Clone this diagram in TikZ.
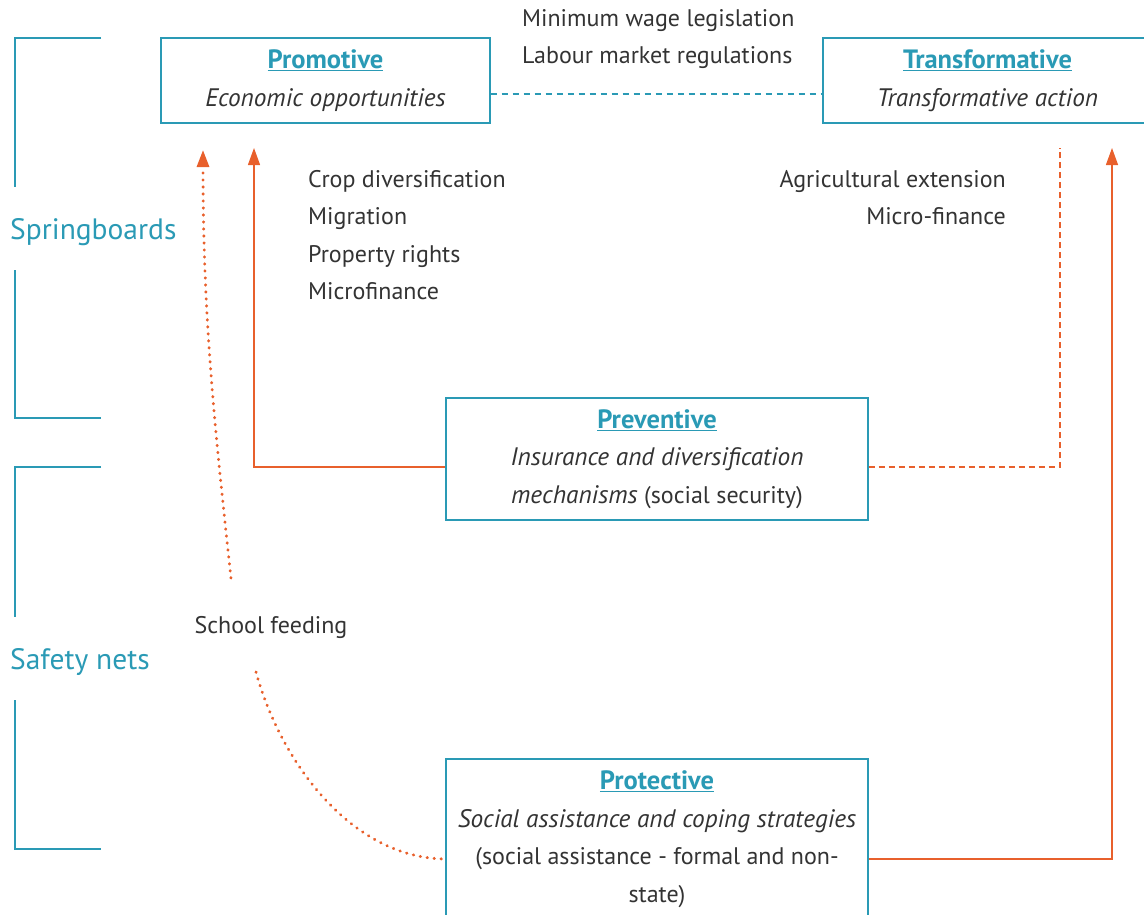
\documentclass[tikz,border=0pt]{standalone}
\usepackage{fontspec}
\setmainfont{PT Sans}
\usetikzlibrary{arrows.meta,positioning}

\definecolor{couleurcadre}{HTML}{2A9AB5}
\definecolor{couleurfleche}{HTML}{E8602C}
\definecolor{couleurtexte}{HTML}{333333}
\newcommand{\titre}[1]{{\fontsize{26.5}{37.5}\selectfont\textcolor{couleurcadre}{\textbf{\underline{#1}}}}}
\newcommand{\soustitre}[1]{{\fontsize{25.3}{37.5}\selectfont\textit{#1}}}
\newcommand{\lienangl}[3][]{\draw[#1] (#2) -| (#3);}
\tikzset{
		basic/.style={font=\fontsize{24}{37.5}\selectfont, text=couleurtexte, inner sep=0pt},
		boite/.style={basic, draw=couleurcadre, line width=1.3pt, align=center},
		liste/.style={basic},
		bloc/.style={basic, font=\fontsize{29.5}{30}\selectfont, text=couleurcadre, anchor=west},
		crochet/.style={draw=couleurcadre, line width=1.3pt},
		fleche/.style={draw=couleurfleche, line width=1.3pt, -{Triangle[length=17pt,width=12pt]}},
		pointille/.style={draw=couleurfleche, line width=3pt, line cap=round, dash pattern=on 0.4pt off 6.6pt},
		tirets/.style={draw=couleurfleche, line width=1.3pt, dash pattern=on 6pt off 4pt},
		tiretsbleus/.style={draw=couleurcadre, line width=1.1pt, dash pattern=on 6pt off 5pt}
	}

\begin{document}
\begin{tikzpicture}[x=1pt, y=-1pt]
		\useasboundingbox (0,0) rectangle (1144,914);
		% crochets
		\draw[crochet] (101,38) -| (15,187);
		\draw[crochet] (15,270) |- (101,418);
		\draw[crochet] (101,467) -| (15,617);
		\draw[crochet] (15,700) |- (101,849);
		\node[bloc](springbo) at (10,232) {Springboards};
		\node[bloc](safetyne) at (10,662) {Safety nets};
		
		% boites
		\node[boite, minimum width=329pt, minimum height=85pt](promotiv) at (325.5,80.5) {\titre{Promotive}\\\soustitre{Economic opportunities}};
		\node[boite, minimum width=329pt, minimum height=85pt](transfor) at (987.5,80.5) {\titre{Transformative}\\\soustitre{Transformative action}};
		\node[boite, minimum width=422pt, minimum height=122pt](preventi) at (657,459) {\titre{Preventive}\\\soustitre{Insurance and diversification}\\\soustitre{mechanisms} (social security)};
		\node[boite, minimum width=422pt, minimum height=160pt](protecti) at (657,839) {\titre{Protective}\\\soustitre{Social assistance and coping strategies}\\(social assistance - formal and non-\\state)};
		
		% listes
		\node[liste, anchor=west, align=left](legislat) at (522,39) {Minimum wage legislation\\Labour market regulations};
		\node[liste, anchor=west, align=left](levipromo) at (308,235) {Crop diversification\\Migration\\Property rights\\Microfinance};
		\node[liste, anchor=east, align=right](levitran) at (1006,197.5) {Agricultural extension\\Micro-finance};
		\node[liste](schofeed) at (271,627) {School feeding};
		
		% extremites
		\coordinate (ciblprom) at (254,148);
		\coordinate (poinprom) at (203,150);
		\coordinate (ciblpoin) at (1060,148);
		\coordinate (cibltran) at (1112,148);
		\coordinate (depahaut) at (231,578);
		\coordinate (depabas) at (256,672);
		
		% Liens
		\draw[tiretsbleus] ([yshift=-13.5pt]promotiv.east) -- ([yshift=-13.5pt]transfor.west);
		\lienangl[fleche]{[yshift=-8pt]preventi.west}{ciblprom}
		\lienangl[tirets]{[yshift=-8pt]preventi.east}{ciblpoin}
		\lienangl[fleche]{[yshift=-20pt]protecti.east}{cibltran}
		\draw[pointille, -{Triangle[length=17pt,width=12pt]}] (depahaut) .. controls (215,430) and (203,320) .. (poinprom);
		\draw[pointille] (depabas) .. controls (280,760) and (350,858) .. ([yshift=-20pt]protecti.west);
	\end{tikzpicture}
\end{document}
